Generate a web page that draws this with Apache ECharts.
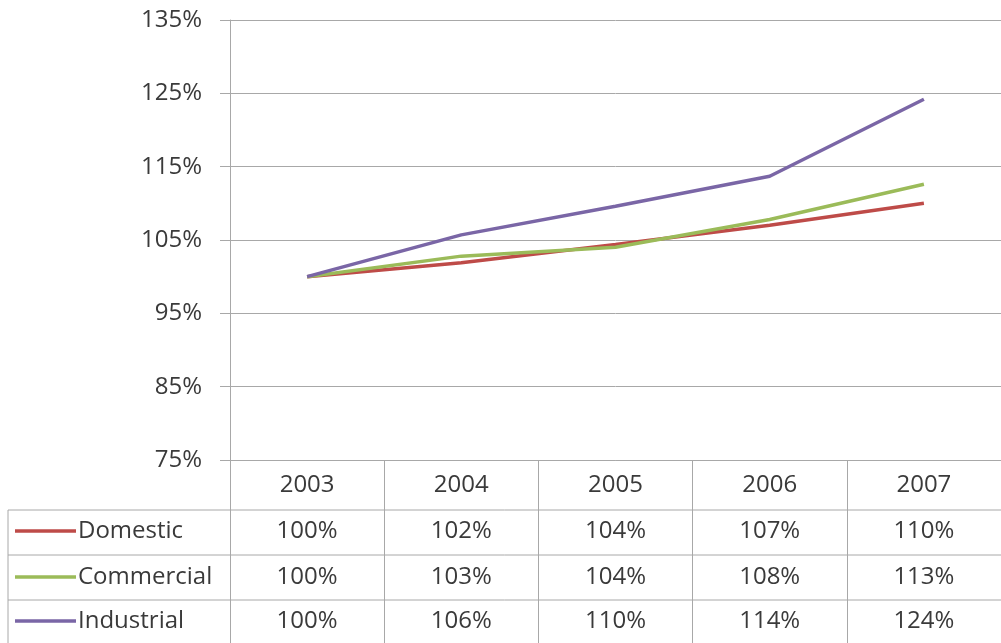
<!DOCTYPE html>
<html>
<head>
<meta charset="utf-8">
<script src="https://cdn.jsdelivr.net/npm/echarts@6/dist/echarts.min.js"></script>
<style>
  html, body { margin: 0; padding: 0; background: #fff; }
  #chart { width: 1001px; height: 643px; }
</style>
</head>
<body>
<div id="chart"></div>
<script>
const years = ["2003", "2004", "2005", "2006", "2007"];
const seriesNames = ["Domestic", "Commercial", "Industrial"];
const colors = ["#be4b48", "#9bbb59", "#7a66a6"];

// line values (percent), table shows them rounded
const domestic = [100, 101.9, 104.4, 107, 110];
const commercial = [100, 102.8, 104, 107.8, 112.6];
const industrial = [100, 105.7, 109.6, 113.7, 124.2];
const allValues = [domestic, commercial, industrial];

const yTicks = { min: 75, max: 135, step: 10 };

const font = "'Open Sans', 'Liberation Sans', sans-serif";
const fontSize = 24;
const textColor = "#3a3a3a";
const lineGray = "#a8a8a8";

const rowCenters = [531, 577, 621];
const rowLines = [510, 555, 600];

const chart = echarts.init(document.getElementById("chart"));

chart.setOption({
  animation: false,
  grid: { left: 230, right: 0, top: 20, bottom: 183 },
  xAxis: {
    type: "category",
    data: years,
    boundaryGap: true,
    axisLine: { show: true, lineStyle: { color: lineGray, width: 1 } },
    axisTick: { show: true, interval: 0, length: 183, alignWithLabel: false, lineStyle: { color: lineGray } },
    axisLabel: { margin: 25, verticalAlign: "middle", fontFamily: font, fontSize: fontSize, color: textColor, interval: 0 },
    splitLine: { show: false }
  },
  yAxis: {
    type: "value",
    min: yTicks.min,
    max: yTicks.max,
    interval: yTicks.step,
    axisLine: { show: true, lineStyle: { color: lineGray } },
    axisTick: { show: true, length: 10, lineStyle: { color: lineGray } },
    axisLabel: { margin: 28, fontFamily: font, fontSize: fontSize, color: textColor, formatter: v => v + "%" },
    splitLine: { show: true, lineStyle: { color: lineGray, width: 1 } }
  },
  series: seriesNames.map((name, i) => ({
    name,
    type: "line",
    data: allValues[i],
    symbol: "none",
    lineStyle: { color: colors[i], width: 3.5 },
    itemStyle: { color: colors[i] }
  }))
});

// data table under the axis
const graphic = [];
rowLines.forEach(y => {
  graphic.push({ type: "line", shape: { x1: 8, y1: y, x2: 1001, y2: y }, style: { stroke: lineGray, lineWidth: 1 } });
});
graphic.push({ type: "line", shape: { x1: 8, y1: 510, x2: 8, y2: 643 }, style: { stroke: lineGray, lineWidth: 1 } });

seriesNames.forEach((name, r) => {
  const cy = rowCenters[r];
  graphic.push({ type: "line", shape: { x1: 15, y1: cy, x2: 76, y2: cy }, style: { stroke: colors[r], lineWidth: 3.5 } });
  graphic.push({
    type: "text", x: 78, y: cy,
    style: { text: name, font: fontSize + "px " + font, fill: textColor, textAlign: "left", textVerticalAlign: "middle" }
  });
  allValues[r].forEach((v, c) => {
    const x = chart.convertToPixel({ xAxisIndex: 0 }, c);
    graphic.push({
      type: "text", x: x, y: cy,
      style: { text: Math.round(v) + "%", font: fontSize + "px " + font, fill: textColor, textAlign: "center", textVerticalAlign: "middle" }
    });
  });
});

chart.setOption({ graphic });
</script>
</body>
</html>
